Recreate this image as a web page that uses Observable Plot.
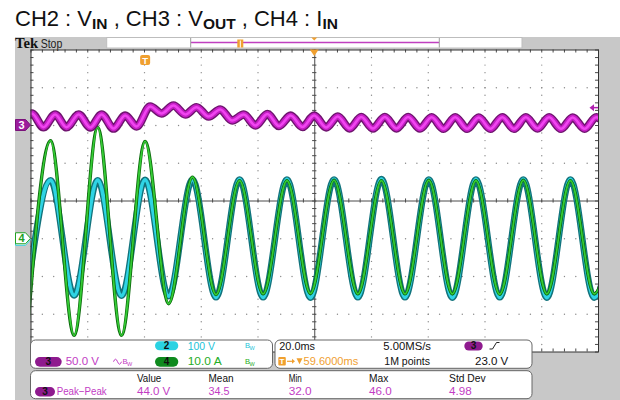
<!DOCTYPE html>
<html>
<head>
<meta charset="utf-8">
<script src="https://cdn.jsdelivr.net/npm/d3@7"></script>
<script src="https://cdn.jsdelivr.net/npm/@observablehq/plot@0.6"></script>
<style>
  html, body { margin: 0; padding: 0; background: #fff; }
  #wrap { position: relative; width: 620px; height: 400px; overflow: hidden; font-family: "Liberation Sans", Arial, sans-serif; }
  #bg { position: absolute; left: 15px; top: 37px; width: 605px; height: 363px; background: #c8c8c8; }
  #plot { position: absolute; left: 0; top: 0; }
  #title { position: absolute; left: 15px; top: 8px; font-size: 22px; line-height: 22px; color: #111; white-space: nowrap; }
  #title b { font-size: 15.5px; position: relative; top: 3px; }
</style>
</head>
<body>
<div id="wrap">
  <div id="bg"></div>
  <div id="plot"></div>
  <div id="title">CH2 : V<b>IN</b> , CH3 : V<b>OUT</b> , CH4 : I<b>IN</b></div>
</div>
<script>
// ---------- data ----------
// time of successive troughs/peaks of the 60 Hz line waveforms (ms, relative to trigger)
const lineTime = [-41.8, -33.5, -25.2, -16.9, -8.5, -0.2, 8.1, 16.5, 24.8, 33.1, 41.4, 49.8, 58.1,
                  66.4, 74.8, 83.1, 91.4, 99.8, 108.1, 116.4, 124.8, 133.1, 141.4, 149.7, 158.1, 166.4];
// CH2 V_IN extremes (V)
const ch2Volts = [-150, 155, -150, 155, -151, 156, -152, 157, -155, 157, -155, 157, -156,
                  157, -155, 158, -155, 157, -156, 157, -155, 157, -156, 157, -156, 157];
// CH4 I_IN extremes (A)
const ch4Amps = [-26, 26, -25.6, 29.5, -25.6, 25.8, -17.2, 16.3, -14.8, 15.4, -14.6, 15.4, -14.5,
                 15.5, -14.6, 15.4, -14.6, 15.5, -14.6, 15.4, -14.7, 15.5, -14.6, 15.4, -14.6, 15.4];
// CH3 V_OUT (AC coupled) ripple extremes
const ch3Time = [-44.3, -40.1, -36.0, -31.9, -27.9, -23.6, -19.5, -15.5, -11.3, -7.2, -3.2, 1.6, 5.6,
                 9.8, 14.0, 17.9, 22.2, 26.3, 30.5, 34.6, 38.7, 42.9, 47.0, 51.1, 55.3, 59.4, 63.6,
                 67.7, 71.9, 76.0, 80.1, 84.3, 88.4, 92.5, 96.7, 100.8, 105.0, 109.1, 113.3, 117.4,
                 121.5, 125.7, 129.8, 134.0, 138.1, 142.2, 146.4, 150.5, 154.7, 158.8, 163.0];
const ch3Volts = [-2.6, 15.9, -2.3, 14.6, -2.3, 14.6, -2.6, 14.6, -4.0, 13.2, -1.3, 25.2, 15.9,
                  26.5, 14.6, 24.2, 11.9, 21.2, 6.6, 14.6, 0, 15.2, -0.7, 13.2, -2.0, 13.2, -2.6,
                  11.9, -4.0, 11.3, -4.0, 11.3, -4.0, 11.3, -4.0, 11.0, -4.4, 11.0, -4.4, 10.6,
                  -4.4, 11.0, -4.4, 11.0, -4.0, 11.0, -4.4, 10.6, -4.4, 11.0, -4.4];
// channel settings
const ch2PerDiv = 100, ch3PerDiv = 50, ch4PerDiv = 10;     // units / division
const ch2Pos = -1, ch3Pos = 2, ch4Pos = -1;                 // offset (divisions)
const trigLevel = 23.0;                                     // V on CH3
const timePerDiv = 20, trigDelay = 59.6;                    // ms
// measurement table
const measNames = ["Value", "Mean", "Min", "Max", "Std Dev"];
const measValues = ["44.0 V", "34.5", "32.0", "46.0", "4.98"];

// ---------- scales / graticule ----------
const T0 = -(5 * timePerDiv - trigDelay), T1 = T0 + 10 * timePerDiv;
const cT = T0 + 5 * timePerDiv;
const majorT = d3.range(11).map(k => T0 + timePerDiv * k);
const minorT = d3.range(51).map(k => T0 + timePerDiv / 5 * k);
const minorY = d3.range(-20, 21).map(j => j / 5);

const vDots = [], hDots = [];
for (let k = 1; k < 10; k++) if (k !== 5) for (let j = -19; j <= 19; j++) vDots.push({t: majorT[k], y: j / 5});
for (let j = -3; j <= 3; j++) if (j !== 0) for (let k = 1; k < 50; k++) hDots.push({t: minorT[k], y: j});

const ch2 = lineTime.map((t, i) => ({t, y: ch2Volts[i] / ch2PerDiv + ch2Pos}));
const ch4 = lineTime.map((t, i) => ({t, y: ch4Amps[i] / ch4PerDiv + ch4Pos}));
const ch3 = ch3Time.map((t, i) => ({t, y: ch3Volts[i] / ch3PerDiv + ch3Pos}));

const layer = (data, w, c) => Plot.line(data, {x: "t", y: "y", curve: "monotone-x", stroke: c, strokeWidth: w, clip: true});
const tickC = "#4a4a4a";
const tx = 1.06, ty = 0.08; // ~3px tick length in data units

const chart = Plot.plot({
  width: 620, height: 400,
  marginLeft: 30.5, marginRight: 22, marginTop: 49.5, marginBottom: 48.5,
  x: {domain: [T0, T1], axis: null},
  y: {domain: [-4, 4], axis: null},
  style: {background: "transparent", overflow: "visible"},
  marks: [
    Plot.frame({fill: "white", stroke: null}),
    Plot.dot(vDots, {x: "t", y: "y", r: 0.7, fill: "#8a8a8a"}),
    Plot.dot(hDots, {x: "t", y: "y", r: 0.7, fill: "#8a8a8a"}),
    Plot.ruleX([cT], {stroke: tickC}),
    Plot.ruleY([0], {stroke: tickC}),
    Plot.ruleY(minorY, {x1: cT - 0.75, x2: cT + 0.75, stroke: tickC}),
    Plot.ruleX(minorT, {y1: -0.055, y2: 0.055, stroke: tickC}),
    Plot.ruleX(minorT, {y1: 4 - ty, y2: 4, stroke: tickC}),
    Plot.ruleX(minorT, {y1: -4, y2: -4 + ty, stroke: tickC}),
    Plot.ruleY(minorY, {x1: T0, x2: T0 + tx, stroke: tickC}),
    Plot.ruleY(minorY, {x1: T1 - tx, x2: T1, stroke: tickC}),
    layer(ch2, 6.5, "#12737c"), layer(ch2, 3.8, "#2fd4e4"),
    layer(ch4, 3.4, "#0c6a0c"), layer(ch4, 1.7, "#35cc35"),
    layer(ch3, 8.5, "#6e146e"), layer(ch3, 5.8, "#c51ec5"), layer(ch3, 2.6, "#f045f0"),
    Plot.frame({stroke: "#333"})
  ]
});
document.getElementById("plot").append(chart);

// ---------- scope chrome (markers, record bar, readouts) ----------
const xs = chart.scale("x"), ys = chart.scale("y");
const g = d3.select(chart).append("g").attr("font-family", "'Liberation Sans', Arial, sans-serif");
const SANS = "'Liberation Sans', Arial, sans-serif";
function label(x, y, s, w, fill, size = 11.5) {
  const e = g.append("text").attr("x", x).attr("y", y).attr("fill", fill).attr("font-size", size)
    .attr("text-anchor", "start").attr("font-family", SANS).text(s);
  if (w) e.attr("textLength", w).attr("lengthAdjust", "spacingAndGlyphs");
  return e;
}
function pill(x, y, w, h, fill, s) {
  g.append("rect").attr("x", x).attr("y", y).attr("width", w).attr("height", h).attr("rx", h / 2).attr("fill", fill);
  g.append("text").attr("x", x + w / 2).attr("y", y + h - 1.6).attr("text-anchor", "middle")
    .attr("font-size", 10).attr("font-weight", "bold").attr("fill", "#111").text(s);
}
function box(x, y, w, h) {
  g.append("rect").attr("x", x).attr("y", y).attr("width", w).attr("height", h).attr("rx", 5)
    .attr("fill", "white").attr("stroke", "#666").attr("stroke-width", 1);
}
function bw(x, y, fill) {
  label(x, y - 1.5, "B", null, fill, 7.5);
  label(x + 4.5, y + 0.5, "W", null, fill, 5.5);
}
const MAG = "#c23cc4", CYA = "#1cc4d8", GRN = "#26ad26", ORG = "#f0a030";

// top strip: Tek Stop + record bar
g.append("text").attr("x", 15).attr("y", 48).attr("font-family", "'Liberation Serif', 'DejaVu Serif', serif")
  .attr("font-weight", "bold").attr("font-size", 15.5).attr("fill", "#111").attr("text-anchor", "start")
  .attr("textLength", 23).attr("lengthAdjust", "spacingAndGlyphs").text("Tek");
label(40.7, 47.5, "Stop", 21.6, "#222", 12);
g.append("rect").attr("x", 106.7).attr("y", 37.5).attr("width", 415.3).attr("height", 10.5).attr("fill", "white").attr("stroke", "#bdbdbd");
g.append("line").attr("x1", 191).attr("x2", 439).attr("y1", 42.5).attr("y2", 42.5).attr("stroke", "#c040c0").attr("stroke-width", 1.5);
for (const bx of [190.7, 439.3]) g.append("line").attr("x1", bx).attr("x2", bx).attr("y1", 38).attr("y2", 47.5).attr("stroke", "#9a9a9a");
g.append("rect").attr("x", 237.3).attr("y", 39.5).attr("width", 6).attr("height", 8).attr("fill", ORG);
g.append("line").attr("x1", 240.3).attr("x2", 240.3).attr("y1", 40.5).attr("y2", 47.5).attr("stroke", "white").attr("stroke-width", 1);
const xc = xs.apply(cT);
g.append("path").attr("d", `M${xc - 3},37.5 L${xc + 3},37.5 L${xc},40.5 Z`).attr("fill", ORG);
g.append("path").attr("d", `M${xc - 4.5},49.5 L${xc + 4.5},49.5 L${xc},56 Z`).attr("fill", ORG);

// trigger position marker
const xT = xs.apply(0);
g.append("rect").attr("x", xT - 5).attr("y", 55).attr("width", 10).attr("height", 10).attr("rx", 2).attr("fill", ORG);
g.append("text").attr("x", xT).attr("y", 63.5).attr("text-anchor", "middle").attr("font-size", 9.5).attr("font-weight", "bold")
  .attr("fill", "white").attr("font-family", SANS).text("T");

// channel ground markers
function marker(y, fill, stroke, txt, tfill) {
  g.append("path").attr("d", `M15.5,${y - 5.5} H25.5 L30.5,${y} L25.5,${y + 5.5} H15.5 Z`)
    .attr("fill", fill).attr("stroke", stroke).attr("stroke-width", 1);
  g.append("text").attr("x", 21.5).attr("y", y + 4).attr("text-anchor", "middle").attr("font-size", 11)
    .attr("font-weight", "bold").attr("fill", tfill).attr("font-family", SANS).text(txt);
}
marker(ys.apply(ch2Pos) + 1.5, "white", "#2cd0e0", "", CYA);
marker(ys.apply(ch4Pos), "white", "#22a022", "4", "#22a022");
marker(ys.apply(ch3Pos), "#9c1c9c", "#7a127a", "3", "white");

// trigger level marker (right)
const yL = ys.apply(trigLevel / ch3PerDiv + ch3Pos);
g.append("path").attr("d", `M589.5,${yL} L594,${yL - 3.5} L594,${yL + 3.5} Z`).attr("fill", "#b020b0");
g.append("line").attr("x1", 594).attr("x2", 598).attr("y1", yL).attr("y2", yL).attr("stroke", "#b020b0").attr("stroke-width", 1.5);

// readout panels
box(30.5, 340, 242, 28.3);
box(275, 340, 257, 28.3);
box(30.5, 370.7, 501.5, 28);
const r1 = 349.8, r2 = 365.2;
pill(155, 341.3, 23.3, 9, "#2ad2e2", "2");
label(187.7, r1, "100 V", 27.3, CYA);
bw(245, r1, CYA);
pill(35, 357, 26.7, 9.7, "#8e1a8e", "3");
label(65.7, r2, "50.0 V", 33.3, MAG);
g.append("path").attr("d", `M113.5,${r2 - 3.5} q2,-5 4,0 t4,0`).attr("fill", "none").attr("stroke", MAG).attr("stroke-width", 1);
bw(122.5, r2, MAG);
pill(155, 357, 23.3, 9.7, "#0e8a1e", "4");
label(187.7, r2, "10.0 A", 34, GRN);
bw(245, r2, GRN);

label(279.3, r1, "20.0ms", 35.7, "#111");
label(383.3, r1, "5.00MS/s", 47.7, "#111");
pill(464.3, 341.5, 18.4, 9, "#8e1a8e", "3");
g.append("path").attr("d", `M489.5,349 H492.5 L496.5,342.5 H499.5`).attr("fill", "none").attr("stroke", "#222").attr("stroke-width", 1);
g.append("rect").attr("x", 278.3).attr("y", 357).attr("width", 7.5).attr("height", 8.5).attr("rx", 1).attr("fill", ORG);
g.append("text").attr("x", 282).attr("y", 364.3).attr("text-anchor", "middle").attr("font-size", 8).attr("font-weight", "bold")
  .attr("fill", "white").attr("font-family", SANS).text("T");
g.append("line").attr("x1", 287).attr("x2", 293).attr("y1", 361.3).attr("y2", 361.3).attr("stroke", ORG).attr("stroke-width", 1.2);
g.append("path").attr("d", `M292,358.8 L295,361.3 L292,363.8 Z`).attr("fill", ORG);
g.append("path").attr("d", `M296.5,358.3 L302.5,358.3 L299.5,364.3 Z`).attr("fill", ORG);
label(303.5, r2, "59.6000ms", 54.8, ORG);
label(384.3, r2, "1M points", 45.7, "#111");
label(475, r2, "23.0 V", 33.3, "#111");

const h1 = 381.7, h2 = 395;
const measX = [137, 208.5, 288.7, 369, 449];
const nameW = [24.3, 25, 13, 19.3, 36.7];
const valW = [33.3, 21, 23, 22.7, 22.7];
measNames.forEach((s, i) => label(measX[i], h1, s, nameW[i], "#111"));
measValues.forEach((s, i) => label(measX[i], h2, s, valW[i], MAG));
pill(35, 387, 20, 9.5, "#8e1a8e", "3");
label(56.7, h2, "Peak\u2212Peak", 50, MAG);
</script>
</body>
</html>
